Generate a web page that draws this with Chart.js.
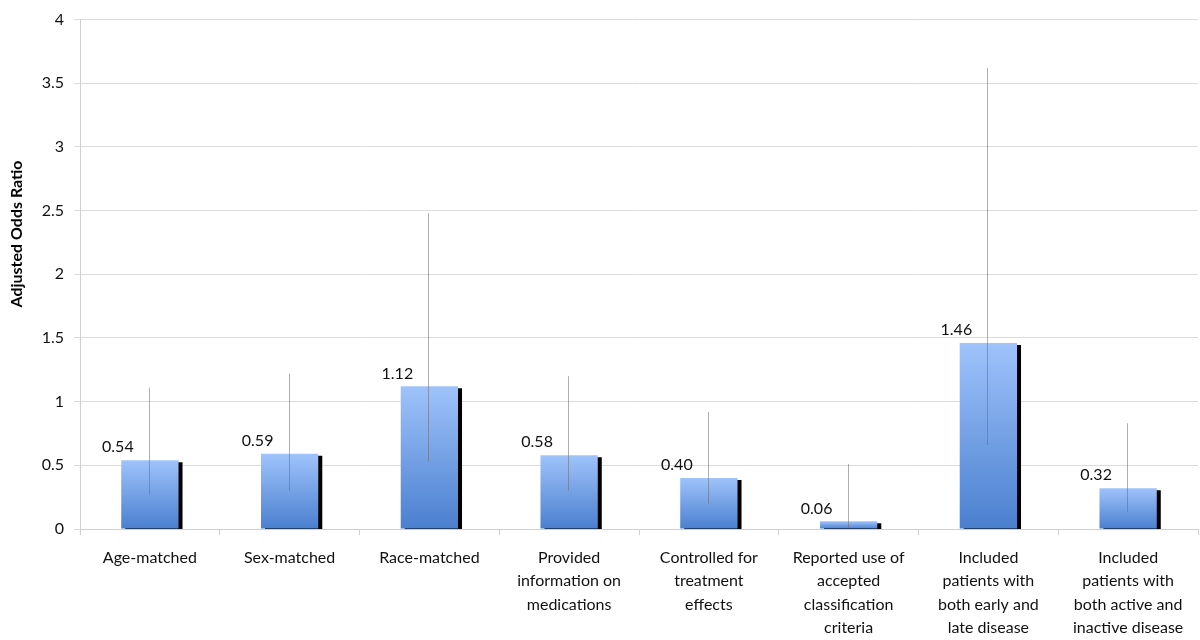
<!DOCTYPE html>
<html>
<head>
<meta charset="utf-8">
<script src="https://cdn.jsdelivr.net/npm/chart.js@4"></script>
<style>
  html, body { margin: 0; padding: 0; background: #fff; }
  #wrap { width: 1200px; height: 640px; }
</style>
</head>
<body>
<div id="wrap"><canvas id="chart"></canvas></div>
<script>
// categories (multi-line labels as in the original)
const categories = [
  ["Age-matched"],
  ["Sex-matched"],
  ["Race-matched"],
  ["Provided", "information on", "medications"],
  ["Controlled for", "treatment", "effects"],
  ["Reported use of", "accepted", "classification", "criteria"],
  ["Included", "patients with", "both early and", "late disease"],
  ["Included", "patients with", "both active and", "inactive disease"],
];
const oddsRatio = [0.54, 0.59, 1.12, 0.58, 0.40, 0.06, 1.46, 0.32];
const ciLow = [0.27, 0.30, 0.53, 0.30, 0.20, 0.01, 0.66, 0.13];
const ciHigh = [1.11, 1.22, 2.48, 1.20, 0.92, 0.51, 3.62, 0.83];
const yTitle = "Adjusted Odds Ratio";

const FONT = "Lato, 'Open Sans', sans-serif";

// gradient per bar, light at the top, darker at the base
function barFill(context) {
  const chart = context.chart;
  const { chartArea, scales } = chart;
  if (!chartArea || !scales.y) return "#6f9de6";
  const top = scales.y.getPixelForValue(context.raw);
  const bottom = scales.y.getPixelForValue(0);
  if (!isFinite(top) || bottom - top < 1) return "#7aa6ea";
  const g = chart.ctx.createLinearGradient(0, top, 0, bottom);
  g.addColorStop(0, "#9fc3fb");
  g.addColorStop(1, "#4a7fcf");
  return g;
}

// hard black drop shadow to the right of each bar
const barShadow = {
  id: "barShadow",
  beforeDatasetsDraw(chart) {
    const ctx = chart.ctx;
    ctx.save();
    ctx.shadowColor = "#000";
    ctx.shadowOffsetX = 4;
    ctx.shadowOffsetY = 2;
    ctx.shadowBlur = 0;
  },
  afterDatasetsDraw(chart) {
    chart.ctx.restore();
  },
};

// thin error lines (no caps), value labels and the y title
const errorAndLabels = {
  id: "errorAndLabels",
  afterDatasetsDraw(chart) {
    const ctx = chart.ctx;
    const y = chart.scales.y;
    const meta = chart.getDatasetMeta(0);
    ctx.save();
    ctx.strokeStyle = "rgba(110,110,110,0.55)";
    ctx.lineWidth = 1;
    meta.data.forEach((bar, i) => {
      const x = Math.round(bar.x) - 0.5;
      ctx.beginPath();
      ctx.moveTo(x, y.getPixelForValue(ciHigh[i]));
      ctx.lineTo(x, y.getPixelForValue(ciLow[i]));
      ctx.stroke();
    });
    ctx.fillStyle = "#111";
    ctx.font = "16px " + FONT;
    ctx.textAlign = "center";
    ctx.textBaseline = "bottom";
    meta.data.forEach((bar, i) => {
      ctx.fillText(oddsRatio[i].toFixed(2), bar.x - 32, bar.y - 5);
    });

    // axis title sits a bit above the middle in the original
    ctx.translate(17, 234);
    ctx.rotate(-Math.PI / 2);
    ctx.font = "bold 16px " + FONT;
    ctx.fillStyle = "#000";
    ctx.textBaseline = "middle";
    ctx.fillText(yTitle, 0, 0);
    ctx.restore();
  },
};

new Chart(document.getElementById("chart"), {
  type: "bar",
  data: {
    labels: categories,
    datasets: [
      {
        label: yTitle,
        data: oddsRatio,
        backgroundColor: barFill,
        borderWidth: 0,
        categoryPercentage: 1,
        barPercentage: 0.41,
      },
    ],
  },
  options: {
    responsive: true,
    maintainAspectRatio: false,
    animation: false,
    layout: { padding: { top: 10, right: 2, left: 0, bottom: 0 } },
    plugins: {
      legend: { display: false },
      tooltip: { enabled: false },
    },
    scales: {
      x: {
        grid: {
          offset: true,
          drawOnChartArea: false,
          tickLength: 6,
          color: "#d0d0d0",
        },
        border: { color: "#d0d0d0" },
        ticks: {
          color: "#111",
          font: { family: FONT, size: 16, lineHeight: 1.47 },
          padding: 11,
          maxRotation: 0,
          autoSkip: false,
        },
        afterFit(scale) {
          scale.height = 111;
        },
      },
      y: {
        min: 0,
        max: 4,
        ticks: {
          stepSize: 0.5,
          color: "#111",
          font: { family: FONT, size: 16 },
          padding: 10,
          callback: (v) => String(v),
        },
        grid: { color: "#dcdcdc", tickLength: 6 },
        border: { color: "#d0d0d0" },
        afterFit(scale) {
          scale.width = 80;
        },
      },
    },
  },
  plugins: [barShadow, errorAndLabels],
});
</script>
</body>
</html>
